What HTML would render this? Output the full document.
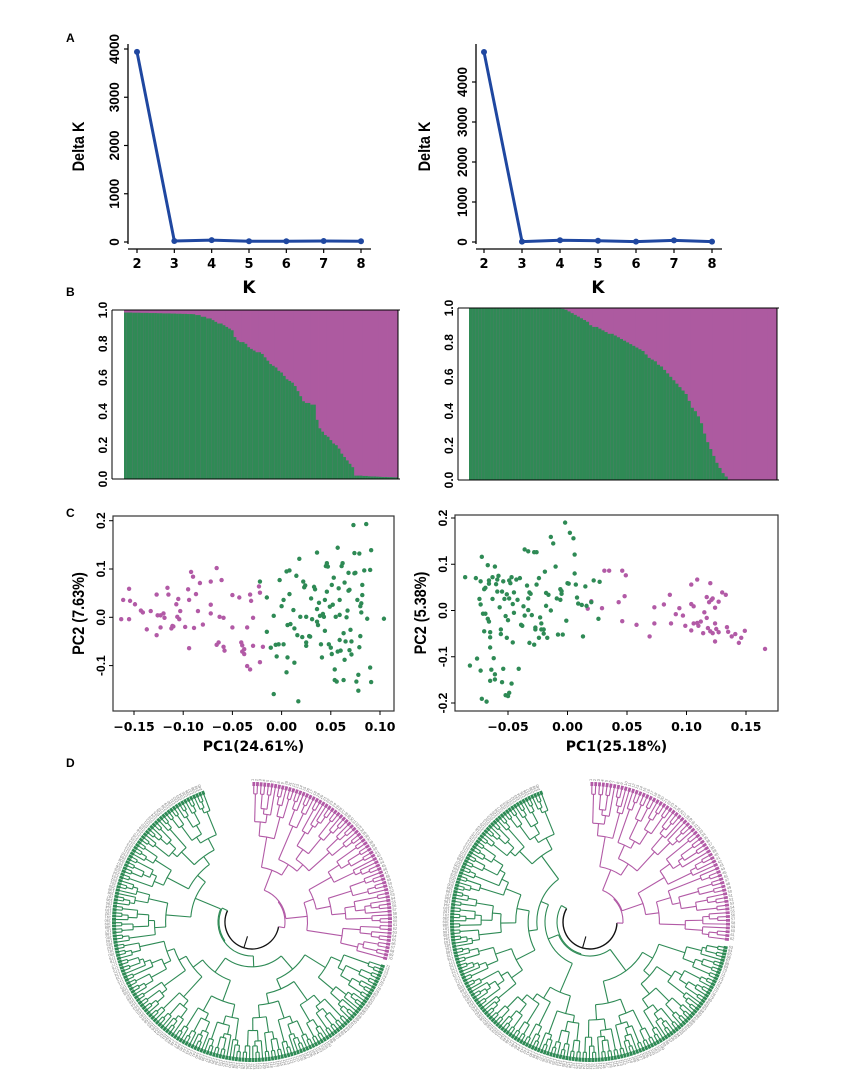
<!DOCTYPE html>
<html><head><meta charset="utf-8"><style>
html,body{margin:0;padding:0;background:#fff;}
svg{display:block;font-family:"Liberation Sans",sans-serif;}
.b{font-weight:bold;}
</style></head><body>
<svg id="fig" width="846" height="1089" viewBox="0 0 846 1089" xmlns="http://www.w3.org/2000/svg">
<rect width="846" height="1089" fill="#fff"/>
<text x="66" y="42" class="b" font-size="12">A</text>
<text x="66" y="296" class="b" font-size="12">B</text>
<text x="66" y="517" class="b" font-size="12">C</text>
<text x="66" y="767" class="b" font-size="12">D</text>
<g id="gA1"></g>
<g id="gA2"></g>
<g id="gB1"></g>
<g id="gB2"></g>
<g id="gC1"></g>
<g id="gC2"></g>
<g id="gD1"></g>
<g id="gD2"></g>
</svg>
<script>
// ---------- Data ----------
const kValues = [2,3,4,5,6,7,8];
const deltaKLeft = [3940,20,40,15,15,20,15];
const deltaKRight = [4750,10,45,30,10,40,10];
const deltaKTicksLeft = [0,1000,2000,3000,4000];
const deltaKTicksRight = [0,1000,2000,3000,4000];

const structGreenLeft = [0.985,0.985,0.985,0.984,0.984,0.984,0.983,0.983,0.983,0.982,0.982,0.982,0.981,0.981,0.98,0.98,0.98,0.979,0.979,0.978,0.978,0.977,0.977,0.976,0.976,0.975,0.97,0.97,0.96,0.96,0.95,0.95,0.94,0.93,0.92,0.92,0.91,0.90,0.89,0.88,0.84,0.82,0.81,0.81,0.80,0.78,0.77,0.76,0.75,0.75,0.74,0.72,0.70,0.68,0.67,0.66,0.64,0.63,0.61,0.59,0.58,0.57,0.55,0.52,0.49,0.46,0.45,0.45,0.44,0.44,0.35,0.30,0.28,0.26,0.25,0.23,0.21,0.20,0.18,0.15,0.13,0.11,0.09,0.07,0.02,0.02,0.02,0.018,0.018,0.016,0.015,0.015,0.014,0.013,0.012,0.012,0.011,0.011,0.01,0.01];
const structGreenRight = [1,1,1,1,1,1,1,1,1,1,1,1,1,1,1,1,1,1,1,1,1,1,1,1,1,1,1,1,1,0.998,0.995,0.99,0.98,0.97,0.96,0.95,0.94,0.93,0.92,0.90,0.89,0.89,0.88,0.87,0.86,0.85,0.85,0.84,0.83,0.82,0.81,0.80,0.79,0.78,0.77,0.76,0.75,0.73,0.71,0.70,0.69,0.67,0.66,0.64,0.62,0.60,0.58,0.56,0.54,0.52,0.50,0.46,0.42,0.40,0.37,0.33,0.27,0.22,0.18,0.14,0.10,0.07,0.04,0.02,0,0,0,0,0,0,0,0,0,0,0,0,0,0,0,0];
const structTicks = [0,0.2,0.4,0.6,0.8,1.0];

const pcaLeftPinkX = [-0.163,-0.161,-0.155,-0.155,-0.154,-0.149,-0.143,-0.141,-0.137,-0.133,-0.127,-0.127,-0.126,-0.123,-0.123,-0.120,-0.119,-0.116,-0.115,-0.112,-0.111,-0.110,-0.107,-0.106,-0.105,-0.104,-0.103,-0.098,-0.095,-0.094,-0.094,-0.092,-0.090,-0.089,-0.087,-0.085,-0.083,-0.080,-0.072,-0.072,-0.072,-0.066,-0.066,-0.064,-0.063,-0.061,-0.059,-0.059,-0.058,-0.050,-0.050,-0.043,-0.041,-0.040,-0.040,-0.038,-0.038,-0.035,-0.035,-0.032,-0.032,-0.031,-0.029,-0.029,-0.022,-0.019,-0.023,-0.022];
const pcaLeftPinkY = [-0.004,0.036,-0.004,0.059,0.034,0.027,0.014,0.010,-0.025,0.013,0.047,-0.037,0.004,0.004,-0.021,0.008,-0.001,0.061,0.047,-0.023,-0.018,-0.019,0.027,0.001,0.038,-0.004,0.013,-0.020,0.058,-0.064,0.036,0.094,0.084,-0.022,0.048,0.013,0.071,-0.015,0.026,0.008,0.074,0.102,-0.057,-0.052,0.001,0.077,-0.001,-0.061,-0.069,0.046,-0.021,0.041,-0.052,-0.058,-0.071,-0.066,-0.076,-0.021,-0.101,-0.108,0.047,0.034,-0.001,-0.059,-0.093,-0.061,0.064,0.051];
const pcaLeftGreenX = [-0.022,-0.015,-0.015,-0.011,-0.008,-0.008,-0.006,-0.005,-0.003,-0.002,0.000,0.002,0.002,0.005,0.005,0.006,0.006,0.008,0.008,0.009,0.012,0.013,0.013,0.015,0.016,0.018,0.019,0.017,0.021,0.022,0.023,0.024,0.025,0.025,0.025,0.028,0.029,0.030,0.031,0.033,0.034,0.036,0.036,0.037,0.036,0.038,0.039,0.040,0.042,0.041,0.043,0.044,0.044,0.046,0.045,0.046,0.047,0.048,0.049,0.050,0.051,0.051,0.052,0.053,0.054,0.054,0.055,0.056,0.057,0.057,0.058,0.059,0.059,0.059,0.060,0.061,0.062,0.063,0.063,0.064,0.064,0.065,0.066,0.067,0.068,0.068,0.069,0.069,0.070,0.071,0.071,0.073,0.074,0.074,0.075,0.076,0.077,0.078,0.078,0.079,0.079,0.080,0.080,0.081,0.081,0.082,0.082,0.084,0.086,0.087,0.090,0.090,0.091,0.091,0.104];
const pcaLeftGreenY = [0.074,0.041,-0.030,-0.063,0.003,-0.159,-0.057,-0.081,-0.056,0.077,0.023,-0.056,0.036,0.095,-0.114,-0.016,-0.083,0.097,0.048,-0.014,0.015,-0.023,-0.094,0.086,-0.037,0.121,0.001,-0.174,-0.041,0.074,0.062,0.066,-0.059,-0.052,0.001,-0.039,-0.040,0.039,-0.004,0.063,0.058,0.017,-0.009,-0.016,0.134,0.030,0.003,-0.056,0.007,-0.083,0.001,-0.028,0.036,0.112,0.106,0.053,0.105,-0.056,0.022,-0.063,-0.076,0.067,0.026,0.082,-0.108,-0.130,0.001,-0.133,-0.071,0.144,0.060,-0.047,0.036,0.005,-0.069,0.106,0.112,-0.130,-0.033,0.072,-0.088,-0.050,0.000,0.014,0.092,0.055,-0.068,0.057,-0.026,-0.050,-0.077,0.191,0.133,0.091,0.092,-0.133,0.036,-0.119,-0.152,0.132,-0.062,0.023,-0.039,0.029,0.010,0.046,0.067,0.097,0.193,-0.003,0.098,-0.104,0.139,-0.134,-0.003];

const pcaRightPinkX = [0.017,0.020,0.029,0.031,0.035,0.043,0.046,0.046,0.049,0.048,0.058,0.069,0.073,0.073,0.081,0.086,0.087,0.091,0.094,0.097,0.099,0.104,0.104,0.104,0.106,0.106,0.109,0.109,0.110,0.112,0.114,0.115,0.117,0.117,0.118,0.119,0.120,0.120,0.121,0.122,0.122,0.124,0.124,0.124,0.125,0.127,0.127,0.130,0.133,0.134,0.135,0.138,0.141,0.144,0.146,0.149,0.166];
const pcaRightPinkY = [0.004,0.020,0.005,0.086,0.086,0.018,0.086,-0.023,0.076,0.031,-0.031,-0.056,0.007,-0.028,0.013,0.034,-0.028,-0.008,0.005,-0.011,-0.033,0.056,0.014,-0.043,-0.028,0.009,-0.027,0.067,-0.033,-0.024,-0.049,-0.004,0.029,-0.016,-0.038,0.018,0.059,-0.045,0.023,0.026,-0.049,0.006,-0.028,-0.067,-0.040,-0.047,0.019,0.039,0.034,-0.036,-0.046,-0.056,-0.051,-0.070,-0.059,-0.044,-0.083];
const pcaRightGreenX = [-0.086,-0.082,-0.077,-0.076,-0.074,-0.073,-0.073,-0.073,-0.072,-0.072,-0.071,-0.070,-0.070,-0.069,-0.069,-0.068,-0.067,-0.067,-0.066,-0.066,-0.066,-0.065,-0.065,-0.065,-0.065,-0.064,-0.063,-0.063,-0.062,-0.061,-0.061,-0.061,-0.060,-0.059,-0.059,-0.058,-0.057,-0.056,-0.056,-0.055,-0.055,-0.054,-0.054,-0.053,-0.052,-0.052,-0.051,-0.051,-0.050,-0.050,-0.049,-0.049,-0.049,-0.048,-0.047,-0.047,-0.046,-0.046,-0.045,-0.045,-0.043,-0.042,-0.041,-0.040,-0.039,-0.038,-0.037,-0.036,-0.036,-0.034,-0.033,-0.033,-0.033,-0.032,-0.032,-0.031,-0.030,-0.028,-0.028,-0.027,-0.027,-0.026,-0.026,-0.024,-0.024,-0.023,-0.022,-0.022,-0.020,-0.020,-0.019,-0.018,-0.018,-0.017,-0.016,-0.014,-0.014,-0.012,-0.010,-0.009,-0.008,-0.006,-0.006,-0.005,-0.005,-0.004,-0.002,-0.001,0.000,0.001,0.002,0.005,0.006,0.006,0.007,0.008,0.009,0.012,0.013,0.015,0.016,0.020,0.022,0.026,0.027];
const pcaRightGreenY = [0.072,-0.119,0.070,-0.104,0.025,-0.130,0.013,0.063,0.116,-0.191,-0.007,-0.045,0.046,-0.007,0.049,-0.197,0.098,-0.018,0.065,0.058,-0.024,-0.047,-0.058,-0.152,-0.080,-0.128,0.025,0.072,-0.103,-0.149,0.095,-0.138,0.057,0.041,0.067,0.075,0.007,-0.041,-0.051,-0.155,0.041,0.063,-0.126,0.025,-0.183,-0.012,-0.059,0.035,-0.021,-0.185,0.065,0.026,-0.178,0.059,-0.158,0.072,-0.069,0.014,0.039,-0.005,0.067,0.023,-0.126,0.070,-0.031,-0.033,0.009,-0.011,0.132,0.054,0.001,0.026,0.128,0.039,-0.070,0.036,-0.010,-0.074,0.126,-0.037,-0.041,0.126,0.056,0.070,-0.059,-0.015,-0.041,-0.028,-0.041,-0.050,0.084,0.038,0.010,-0.059,0.034,0.159,0.000,0.145,0.095,0.026,-0.052,0.046,0.023,0.036,0.042,-0.052,0.190,-0.022,0.059,0.058,0.168,0.156,0.121,0.080,0.056,0.028,0.015,0.012,-0.056,0.052,0.010,0.018,0.065,-0.018,0.062];
const pcaLeftXTicks = [-0.15,-0.10,-0.05,0.00,0.05,0.10];
const pcaLeftYTicks = [-0.1,0.0,0.1,0.2];
const pcaRightXTicks = [-0.05,0.00,0.05,0.10,0.15];
const pcaRightYTicks = [-0.2,-0.1,0.0,0.1,0.2];

const treeLeafCounts1 = [70,170];
const treeLeafCounts2 = [62,178];

// ---------- Helpers ----------
const NS = "http://www.w3.org/2000/svg";
function mk(parent, tag, attrs, text){
  const e = document.createElementNS(NS, tag);
  for (const k in attrs) e.setAttribute(k, attrs[k]);
  if (text !== undefined) e.textContent = text;
  parent.appendChild(e);
  return e;
}
const BLUE="#1f47a0", GREEN="#2f8a55", PINK="#ad5aa0", GREEN_D="#2e8a55", PINK_D="#b25aa6";

// ---------- Panel A ----------
function deltaK(g, vals, ticks, o){
  const xs = k => o.x0 + (k-2)*(o.x1-o.x0)/6;
  const ys = v => o.y0 - v*(o.y0-o.y4)/4000;
  let e;
  e = mk(g,'line',{x1:o.ax,y1:o.top,x2:o.ax,y2:ys(0)+2,stroke:'#000','stroke-width':1.3});
   
  e = mk(g,'line',{x1:o.ax,y1:o.bx,x2:o.x1+10,y2:o.bx,stroke:'#000','stroke-width':1.3});
   
  ticks.forEach(t=>{
    mk(g,'line',{x1:o.ax-4,y1:ys(t),x2:o.ax,y2:ys(t),stroke:'#000','stroke-width':1.2});
    e = mk(g,'text',{x:0,y:0,'font-size':13.5,'font-weight':'bold','text-anchor':'middle',transform:`translate(${o.ax-9},${ys(t)}) rotate(-90)`},String(t));
     
  });
  kValues.forEach(k=>{
    mk(g,'line',{x1:xs(k),y1:o.bx,x2:xs(k),y2:o.bx+4,stroke:'#000','stroke-width':1.2});
    e = mk(g,'text',{x:xs(k),y:o.bx+19,'font-size':13,'font-weight':'bold','text-anchor':'middle','font-family':'DejaVu Sans'},String(k));
     
  });
  const pts = vals.map((v,i)=>xs(kValues[i])+','+ys(v)).join(' ');
  e = mk(g,'polyline',{points:pts,fill:'none',stroke:BLUE,'stroke-width':3,'stroke-linejoin':'round'});
   
  vals.forEach((v,i)=>{
    e = mk(g,'circle',{cx:xs(kValues[i]),cy:ys(v),r:3,fill:BLUE});
     
  });
  e = mk(g,'text',{x:0,y:0,'font-size':17,'font-weight':'bold','text-anchor':'middle',transform:`translate(${o.lx},${(o.top+o.bx)/2}) rotate(-90) scale(0.85,1)`},'Delta K');
   
  e = mk(g,'text',{x:(o.x0+o.x1)/2,y:o.bx+44,'font-size':17,'font-weight':'bold','text-anchor':'middle','font-family':'DejaVu Sans'},'K');
   
}
deltaK(document.getElementById('gA1'), deltaKLeft, deltaKTicksLeft, {ax:128,top:44,bx:249,x0:137,x1:361,y0:242,y4:49,lx:84});
deltaK(document.getElementById('gA2'), deltaKRight, deltaKTicksRight, {ax:476,top:44,bx:249,x0:484,x1:712,y0:242,y4:82,lx:430});

// ---------- Panel B ----------
function structure(g, vals, o){
  const n = vals.length, w = (o.x1-o.x0)/n;
  const ys = v => o.y0 - v*(o.y0-o.y1);
  let e;
  vals.forEach((v,i)=>{
    const x = o.x0 + i*w;
    e = mk(g,'rect',{x:x,y:o.y1,width:w+0.4,height:o.y0-o.y1,fill:PINK});
     
    e = mk(g,'rect',{x:x,y:ys(v),width:w+0.4,height:o.y0-ys(v),fill:GREEN});
     
  });
  mk(g,'line',{x1:o.ax,y1:o.y1,x2:o.x1+2,y2:o.y1,stroke:'#000','stroke-width':1});
  mk(g,'line',{x1:o.ax,y1:o.y0,x2:o.x1+2,y2:o.y0,stroke:'#000','stroke-width':1});
  mk(g,'line',{x1:o.x1,y1:o.y1,x2:o.x1,y2:o.y0,stroke:'#000','stroke-width':1});
  mk(g,'line',{x1:o.ax,y1:o.y1,x2:o.ax,y2:o.y0,stroke:'#000','stroke-width':1});
  structTicks.forEach(t=>{
    e = mk(g,'text',{x:0,y:0,'font-size':12,'font-weight':'bold','text-anchor':'middle',transform:`translate(${o.ax-5},${ys(t)}) rotate(-90)`},t.toFixed(1));
     
  });
}
structure(document.getElementById('gB1'), structGreenLeft, {x0:124,x1:398,y0:479,y1:310,ax:112});
structure(document.getElementById('gB2'), structGreenRight, {x0:469,x1:777,y0:480,y1:308,ax:458});

// ---------- Panel C ----------
function pca(g, sets, o){
  const xs = v => o.xz + v*o.xk;
  const ys = v => o.yz - v*o.yk;
  let e;
  e = mk(g,'rect',{x:o.bx0,y:o.by0,width:o.bx1-o.bx0,height:o.by1-o.by0,fill:'none',stroke:'#333','stroke-width':1.2});
   
  o.yt.forEach(t=>{
    mk(g,'line',{x1:o.bx0-4,y1:ys(t),x2:o.bx0,y2:ys(t),stroke:'#000'});
    e = mk(g,'text',{x:0,y:0,'font-size':12,'font-weight':'bold','text-anchor':'middle',transform:`translate(${o.bx0-8},${ys(t)}) rotate(-90)`},t.toFixed(1));
     
  });
  o.xt.forEach(t=>{
    mk(g,'line',{x1:xs(t),y1:o.by1,x2:xs(t),y2:o.by1+4,stroke:'#000'});
    e = mk(g,'text',{x:xs(t),y:o.by1+20,'font-size':12.5,'font-weight':'bold','text-anchor':'middle','font-family':'DejaVu Sans'},(t<0?'\u2212':'')+Math.abs(t).toFixed(2));
     
  });
  sets.forEach(s=>{
    s.x.forEach((v,i)=>{
      e = mk(g,'circle',{cx:xs(v),cy:ys(s.y[i]),r:2.2,fill:s.c});
       
    });
  });
  e = mk(g,'text',{x:0,y:0,'font-size':17,'font-weight':'bold','text-anchor':'middle',transform:`translate(${o.lx},${(o.by0+o.by1)/2}) rotate(-90) scale(0.85,1)`},o.yl);
   
  e = mk(g,'text',{x:(o.bx0+o.bx1)/2,y:o.by1+40,'font-size':14,'font-weight':'bold','text-anchor':'middle','font-family':'DejaVu Sans'},o.xl);
   
}
pca(document.getElementById('gC1'),
  [{x:pcaLeftPinkX,y:pcaLeftPinkY,c:PINK_D,n:'point-pink'},{x:pcaLeftGreenX,y:pcaLeftGreenY,c:GREEN_D,n:'point-green'}],
  {bx0:113,bx1:394,by0:516,by1:711,xz:281.6,xk:984,yz:617.3,yk:483,xt:pcaLeftXTicks,yt:pcaLeftYTicks,lx:84,yl:'PC2 (7.63%)',xl:'PC1(24.61%)'});
pca(document.getElementById('gC2'),
  [{x:pcaRightPinkX,y:pcaRightPinkY,c:PINK_D,n:'point-pink'},{x:pcaRightGreenX,y:pcaRightGreenY,c:GREEN_D,n:'point-green'}],
  {bx0:455,bx1:778,by0:515,by1:711,xz:567.5,xk:1190,yz:610.5,yk:462.5,xt:pcaRightXTicks,yt:pcaRightYTicks,lx:426,yl:'PC2 (5.38%)',xl:'PC1(25.18%)'});

// ---------- Panel D ----------
function tree(g, cx, cy, counts, ranges, startLabel, pinkJoin, greenJoin){
  const R = 138, RMIN = 34;
  const fr = [0.5,0.35,0.62,0.28,0.45,0.7,0.4,0.55,0.3,0.66];
  let fi = 0, leafIdx = 0, lab = startLabel;
  const P = (a,r)=>[cx + r*Math.sin(a*Math.PI/180), cy - r*Math.cos(a*Math.PI/180)];
  function arc(a0,a1,r,col,w){
    if (a1 < a0){ const t=a0; a0=a1; a1=t; }
    const p0=P(a0,r), p1=P(a1,r), large=(a1-a0)>180?1:0;
    return mk(g,'path',{d:`M${p0[0]},${p0[1]} A${r},${r} 0 ${large} 1 ${p1[0]},${p1[1]}`,fill:'none',stroke:col,'stroke-width':w||1.1});
  }
  function radial(a,r0,r1,col){
    const p0=P(a,r0), p1=P(a,r1);
    return mk(g,'line',{x1:p0[0],y1:p0[1],x2:p1[0],y2:p1[1],stroke:col,'stroke-width':1.1});
  }
  function build(n, N, a0, a1, col){
    const r = n===1 ? R : R - (R-RMIN)*Math.pow(Math.log(n)/Math.log(N),1.3);
    if (n===1){
      const a = a0 + (leafIdx+0.5)*(a1-a0)/N; leafIdx++;
      const p = P(a,R+3);
      const t = mk(g,'text',{x:0,y:0,'font-size':3.8,fill:'#777','text-anchor':'start',transform:`translate(${p[0]},${p[1]}) rotate(${a-90})`},String(lab++));
       
      radial(a,R-2,R+2,col).setAttribute('stroke-width',2.8);
      return {a:a,r:R};
    }
    const f = fr[fi++ % fr.length];
    let k1 = Math.max(1, Math.min(n-1, Math.round(n*f)));
    const c1 = build(k1, N, a0, a1, col);
    const c2 = build(n-k1, N, a0, a1, col);
    const e = arc(c1.a, c2.a, r, col);
     
    radial(c1.a, r, c1.r, col);
    radial(c2.a, r, c2.r, col);
    return {a:(c1.a+c2.a)/2, r:r};
  }
  leafIdx = 0;
  const pink = build(counts[0], counts[0], ranges[0][0], ranges[0][1], PINK_D);
  leafIdx = 0;
  const green = build(counts[1], counts[1], ranges[1][0], ranges[1][1], GREEN_D);
  const r0 = 27;
  // root arc through the bottom, from pink join angle to green join angle
  let e = arc(pinkJoin, greenJoin, r0, '#111', 1.4);
   
  const rp = r0 + 6, rg = r0 + 6;
  radial(pinkJoin, r0, rp, PINK_D);
  arc(pinkJoin, pink.a, rp, PINK_D);
  radial(pink.a, rp, pink.r, PINK_D);
  radial(greenJoin, r0, rg, GREEN_D);
  arc(green.a, greenJoin, rg, GREEN_D);
  radial(green.a, rg, green.r, GREEN_D);
  const mid = (pinkJoin+greenJoin)/2;
  e = radial(mid, r0-12, r0, '#111');
   
}
tree(document.getElementById('gD1'), 252, 922, treeLeafCounts1, [[0,106],[108,340]], 1, 100, 295);
tree(document.getElementById('gD2'), 590, 922, treeLeafCounts2, [[0,98],[100,340]], 1, 92, 300);
</script>
</body></html>
